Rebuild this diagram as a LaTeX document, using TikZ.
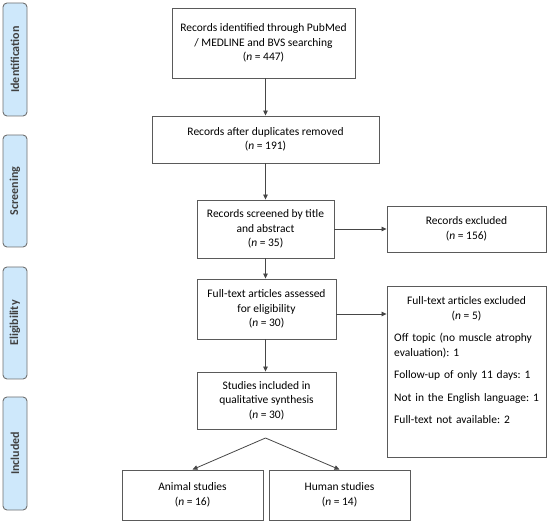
\documentclass[tikz,border=0pt]{standalone}
\usepackage{fontspec}
\setmainfont{Carlito}
\frenchspacing
\usetikzlibrary{arrows.meta,calc}
\definecolor{boxline}{RGB}{90,90,90}
\definecolor{sidefill}{RGB}{206,232,251}
\definecolor{sideline}{RGB}{112,112,112}
\definecolor{sidetext}{RGB}{64,64,64}
\definecolor{arrowc}{RGB}{70,70,70}
\begin{document}
\begin{tikzpicture}[x=1pt,y=-1pt,
  every node/.style={font=\fontsize{11.5}{14.5}\selectfont},
  flowbox/.style={draw=boxline,line width=0.9pt,fill=white,align=center,inner sep=2pt},
  sidebox/.style={draw=sideline,line width=0.9pt,fill=sidefill,rounded corners=4pt,
     minimum width=24pt},
  sidelabel/.style={rotate=90,text=sidetext,font=\fontsize{12}{12}\selectfont\bfseries},
  conn/.style={draw=arrowc,line width=0.8pt,-{Triangle[length=5pt,width=4.5pt]}}]
\useasboundingbox (0,0) rectangle (550,524);
% side labels
\node[sidebox,minimum height=113pt] (sid) at (15,59.5) {};
\node[sidelabel] (sidt) at (sid.center) {Identification};
\node[sidebox,minimum height=112pt] (ssc) at (15,191) {};
\node[sidelabel] (ssct) at (ssc.center) {Screening};
\node[sidebox,minimum height=112pt] (sel) at (15,323) {};
\node[sidelabel] (selt) at (sel.center) {Eligibility};
\node[sidebox,minimum height=113pt] (sin) at (15,453.5) {};
\node[sidelabel] (sint) at (sin.center) {Included};
% main boxes
\node[flowbox,minimum width=183pt,minimum height=70pt] (b1) at (263.5,43)
  {Records identified through PubMed\\/ MEDLINE and BVS searching\\(\textit{n} = 447)};
\node[flowbox,minimum width=227pt,minimum height=47pt] (b2) at (265.5,139.5)
  {Records after duplicates removed\\(\textit{n} = 191)};
\node[flowbox,minimum width=137pt,minimum height=58pt] (b3) at (265.5,229)
  {Records screened by title\\and abstract\\(\textit{n} = 35)};
\node[flowbox,minimum width=159pt,minimum height=46pt] (e1) at (466.5,229)
  {Records excluded\\(\textit{n} = 156)};
\node[flowbox,minimum width=139pt,minimum height=60pt] (b4) at (266.5,309)
  {Full-text articles assessed\\for eligibility\\(\textit{n} = 30)};
\node[flowbox,minimum width=139pt,minimum height=57pt] (b5) at (266.5,400.5)
  {Studies included in\\qualitative synthesis\\(\textit{n} = 30)};
\node[flowbox,minimum width=159pt,minimum height=171pt] (e2) at (466.5,371.5) {};
\node[align=center,inner sep=0pt] (e2h) at (466.5,309)
  {Full-text articles excluded\\(\textit{n} = 5)};
\node[anchor=north west,align=left,inner sep=0pt,text width=152pt] (e2i) at (394,333)
  {Off topic (no muscle atrophy\\evaluation): 1\\[8pt]
   Follow-up of only 11 days: 1\\[8pt]
   Not in the English language: 1\\[8pt]
   Full-text not available: 2};
\node[flowbox,minimum width=141pt,minimum height=50pt] (an) at (192.5,495)
  {Animal studies\\(\textit{n} = 16)};
\node[flowbox,minimum width=141pt,minimum height=50pt] (hu) at (339.5,495)
  {Human studies\\(\textit{n} = 14)};
\coordinate (apex) at (265.5,438);
\coordinate (a4) at ($(b4.east)+(0,5)$);
% connectors
\draw[conn] (b1.south -| b3.north) -- (b2.north -| b3.north);
\draw[conn] (b2.south -| b3.north) -- (b3.north);
\draw[conn] (b3.south) -- (b4.north -| b3.south);
\draw[conn] (b4.south -| b3.south) -- (b5.north -| b3.south);
\draw[conn] (b3.east) -- (e1.west);
\draw[conn] (a4) -- (a4 -| e2.west);
\draw[conn] (apex) -- (an.north);
\draw[conn] (apex) -- (hu.north);
\end{tikzpicture}
\end{document}
